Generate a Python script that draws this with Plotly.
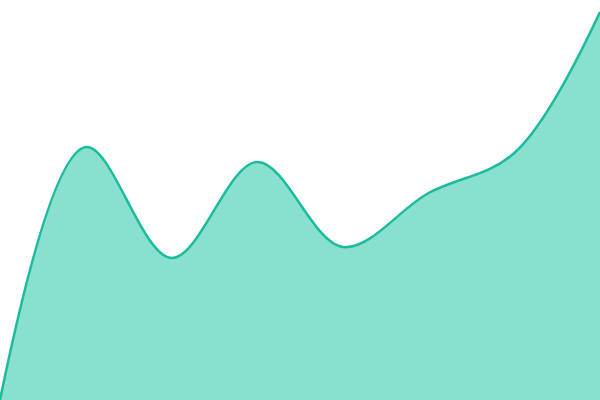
import plotly.graph_objects as go

# points along the curve, evenly spaced
x_vals = [0, 1, 2, 3, 4, 5, 6, 7]
y_vals = [0, 253, 142, 238, 153, 207, 247, 388]

fig = go.Figure()
fig.add_trace(go.Scatter(
    x=x_vals, y=y_vals,
    mode='lines',
    line=dict(color='#1abc9c', width=2.5, shape='spline', smoothing=1),
    fill='tozeroy',
    fillcolor='#8ae0cf',
    hoverinfo='skip'
))

fig.update_layout(
    width=600, height=400,
    margin=dict(l=0, r=0, t=0, b=0),
    paper_bgcolor='white', plot_bgcolor='white',
    showlegend=False,
    xaxis=dict(visible=False, range=[0, 7]),
    yaxis=dict(visible=False, range=[0, 400]),
)

# drop the default page margin so the chart fills the window
fig.write_html("out.html", config={'displayModeBar': False},
               post_script="document.body.style.margin='0';document.body.style.overflow='hidden';")
